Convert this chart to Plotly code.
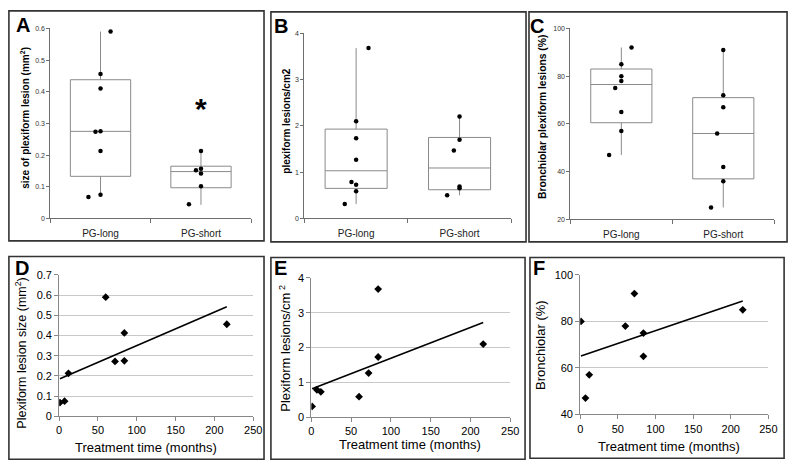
import numpy as np
import plotly.graph_objects as go

W, H = 800, 472

# ---------------- data ----------------
categories = ["PG-long", "PG-short"]

# Panel A: size of plexiform lesion (mm^2)
A_long = [0.59, 0.456, 0.41, 0.275, 0.274, 0.213, 0.075, 0.068]
A_short = [0.213, 0.157, 0.152, 0.142, 0.102, 0.045]
A_long_box = dict(q1=0.133, median=0.275, q3=0.438, lo=0.075, hi=0.59)
A_short_box = dict(q1=0.097, median=0.148, q3=0.165, lo=0.043, hi=0.213)

# Panel B: plexiform lesions/cm2
B_long = [3.68, 2.10, 1.73, 1.27, 0.79, 0.73, 0.59, 0.31]
B_short = [2.20, 1.70, 1.47, 0.69, 0.65, 0.50]
B_long_box = dict(q1=0.65, median=1.03, q3=1.93, lo=0.31, hi=3.68)
B_short_box = dict(q1=0.62, median=1.09, q3=1.75, lo=0.50, hi=2.20)

# Panel C: bronchiolar plexiform lesions (%)
C_long = [92, 85, 80, 78, 75, 65, 57, 47]
C_short = [91, 72, 67, 56, 42, 36, 25]
C_long_box = dict(q1=60.5, median=76.5, q3=83, lo=47, hi=92)
C_short_box = dict(q1=37, median=56, q3=71, lo=25, hi=91)

# horizontal jitter of the dots (category units)
A_long_jit = [0.10, 0.0, 0.0, 0.0, -0.05, 0.0, 0.0, -0.12]
A_short_jit = [0.0, 0.0, -0.05, 0.0, 0.0, -0.12]
B_long_jit = [0.12, 0.0, 0.0, 0.0, -0.045, 0.0, 0.0, -0.11]
B_short_jit = [0.0, 0.0, -0.055, 0.0, 0.0, -0.12]
C_long_jit = [0.10, 0.0, 0.0, 0.0, -0.06, 0.0, 0.0, -0.12]
C_short_jit = [0.0, 0.0, 0.0, -0.06, 0.0, 0.0, -0.12]

# Panels D-F: treatment time (months) vs measures
treat_months = [1, 7, 12, 60, 72, 84, 84, 216]
D_size = [0.068, 0.075, 0.213, 0.59, 0.272, 0.275, 0.413, 0.456]
E_lesions = [0.31, 0.79, 0.73, 0.59, 1.27, 3.68, 1.73, 2.10]
F_bronch = [80, 47, 57, 78, 92, 65, 75, 85]

# ---------------- helpers ----------------
def px(x):
    return x / W

def py(y):
    return 1 - y / H

fig = go.Figure()
BOXC = "#8a8a8a"
AXC = "#6e6e6e"
FONT = "Liberation Sans, Arial, sans-serif"


def add_box_panel(n, long_vals, short_vals, long_box, short_box, long_jit, short_jit):
    xa = "x" if n == 1 else f"x{n}"
    ya = "y" if n == 1 else f"y{n}"
    for pos, b in [(0, long_box), (1, short_box)]:
        fig.add_trace(go.Box(
            x=[pos], q1=[b["q1"]], median=[b["median"]], q3=[b["q3"]],
            lowerfence=[b["lo"]], upperfence=[b["hi"]],
            width=0.6, whiskerwidth=0, boxpoints=False,
            line=dict(color=BOXC, width=1), fillcolor="rgba(255,255,255,0)",
            xaxis=xa, yaxis=ya, showlegend=False, hoverinfo="skip"))
    for pos, vals, jit in [(0, long_vals, long_jit), (1, short_vals, short_jit)]:
        fig.add_trace(go.Scatter(
            x=[pos + j for j in jit], y=vals, mode="markers",
            marker=dict(color="black", size=4.5),
            xaxis=xa, yaxis=ya, showlegend=False))


def add_scatter_panel(n, xs, ys):
    xa = f"x{n}"
    ya = f"y{n}"
    fig.add_trace(go.Scatter(x=xs, y=ys, mode="markers",
                             marker=dict(symbol="diamond", color="black", size=6),
                             xaxis=xa, yaxis=ya, showlegend=False))
    slope, inter = np.polyfit(np.array(xs, float), np.array(ys, float), 1)
    lx = np.array([min(xs), max(xs)], float)
    fig.add_trace(go.Scatter(x=lx, y=slope * lx + inter, mode="lines",
                             line=dict(color="black", width=1.6),
                             xaxis=xa, yaxis=ya, showlegend=False))


add_box_panel(1, A_long, A_short, A_long_box, A_short_box, A_long_jit, A_short_jit)
add_box_panel(2, B_long, B_short, B_long_box, B_short_box, B_long_jit, B_short_jit)
add_box_panel(3, C_long, C_short, C_long_box, C_short_box, C_long_jit, C_short_jit)
add_scatter_panel(4, treat_months, D_size)
add_scatter_panel(5, treat_months, E_lesions)
add_scatter_panel(6, treat_months, F_bronch)

layout = dict(
    width=W, height=H, margin=dict(l=0, r=0, t=0, b=0),
    paper_bgcolor="white", plot_bgcolor="white",
    font=dict(family=FONT, color="black"),
    showlegend=False,
)

box_dom = {
    1: ((48, 252), (218, 23), (0, 0.6), 0.1),
    2: ((306, 516), (218, 28), (0, 4), 1),
    3: ((576, 783), (219, 23), (20, 100), 20),
}
for n, ((x0, x1), (yb, yt), yr, dt) in box_dom.items():
    sx = "" if n == 1 else str(n)
    layout["xaxis" + sx] = dict(
        domain=[px(x0), px(x1)], range=[-0.5, 1.5], anchor="y" + sx,
        tickmode="array", tickvals=[0, 1], ticktext=categories,
        ticks="outside", ticklen=6, tickcolor="rgba(0,0,0,0)",
        tickfont=dict(size=10, color="#222"),
        showline=True, linecolor=AXC, linewidth=1, showgrid=False, zeroline=False,
        minor=dict(tickmode="array", tickvals=[-0.5, 0.5, 1.5], ticks="outside",
                   ticklen=4, tickcolor=AXC, showgrid=False),
    )
    layout["yaxis" + sx] = dict(
        domain=[py(yb), py(yt)], range=list(yr), dtick=dt, anchor="x" + sx,
        ticks="outside", ticklen=3, tickcolor=AXC, tickfont=dict(size=7, color="#333"),
        showline=True, linecolor=AXC, linewidth=1, showgrid=False, zeroline=False,
    )

sc_dom = {
    4: ((57, 254), (421, 276), (0, 0.7), 0.1),
    5: ((313, 515), (422, 279), (0, 4), 1),
    6: ((586, 777), (419, 276), (40, 100), 20),
}
for n, ((x0, x1), (yb, yt), yr, dt) in sc_dom.items():
    sx = str(n)
    layout["xaxis" + sx] = dict(
        domain=[px(x0), px(x1)], range=[0, 250], dtick=50, anchor="y" + sx,
        ticks="outside", ticklen=4, tickcolor="#888", tickfont=dict(size=11, color="black"),
        showline=True, linecolor="#888", linewidth=1, showgrid=False, zeroline=False,
    )
    layout["yaxis" + sx] = dict(
        domain=[py(yb), py(yt)], range=list(yr), dtick=dt, anchor="x" + sx,
        ticks="outside", ticklen=4, tickcolor="#888", tickfont=dict(size=11, color="black"),
        showline=True, linecolor="#888", linewidth=1,
        showgrid=True, gridcolor="#c8c8c8", gridwidth=1, zeroline=False,
    )

fig.update_layout(**layout)

# frames around the panels
frames = [(6, 5, 265, 241), (272, 6, 531, 242), (534, 6, 796, 242),
          (6, 257, 265, 465), (272, 258, 530, 465), (535, 258, 793, 464)]
for (x0, y0, x1, y1) in frames:
    fig.add_shape(type="rect", xref="paper", yref="paper",
                  x0=px(x0), x1=px(x1), y0=py(y1), y1=py(y0),
                  line=dict(color="#333", width=1.6), fillcolor="rgba(0,0,0,0)")

# panel letters
letters = [("A", 11, 6), ("B", 273, 7), ("C", 533, 7),
           ("D", 10, 256), ("E", 273, 256), ("F", 536, 256)]
for t, x, y in letters:
    fig.add_annotation(text=f"<b>{t}</b>", xref="paper", yref="paper",
                       x=px(x), y=py(y), xanchor="left", yanchor="top",
                       showarrow=False, font=dict(size=20, color="black", family=FONT))

# axis titles
ytitles = [
    ("<b>size of plexiform lesion (mm<sup>2</sup>)</b>", 22, 115, 10),
    ("<b>plexiform lesions/cm2</b>", 287, 118, 10),
    ("<b>Bronchiolar plexiform lesions (%)</b>", 547, 114, 10.3),
    ("Plexiform lesion size (mm<sup>2</sup>)", 18, 356, 12.5),
    ("Plexiform lesions/cm<sup> 2</sup>", 286, 351, 13),
    ("Bronchiolar (%)", 545, 348, 13),
]
for t, x, y, s in ytitles:
    fig.add_annotation(text=t, xref="paper", yref="paper", x=px(x), y=py(y),
                       xanchor="center", yanchor="middle", textangle=-90,
                       showarrow=False, font=dict(size=s, color="black", family=FONT))

xtitles = [(145, 453), (413, 450), (676, 452)]
for x, y in xtitles:
    fig.add_annotation(text="Treatment time (months)", xref="paper", yref="paper",
                       x=px(x), y=py(y), xanchor="center", yanchor="middle",
                       showarrow=False, font=dict(size=13, color="black", family=FONT))

# significance asterisk in panel A
fig.add_annotation(text="<b>*</b>", xref="x", yref="y", x=1, y=0.35,
                   xanchor="center", yanchor="middle", yshift=-1,
                   showarrow=False, font=dict(size=30, color="black", family=FONT))

fig.write_html("out.html", config={"displayModeBar": False},
               post_script="document.body.style.margin='0';document.body.style.overflow='hidden';")
